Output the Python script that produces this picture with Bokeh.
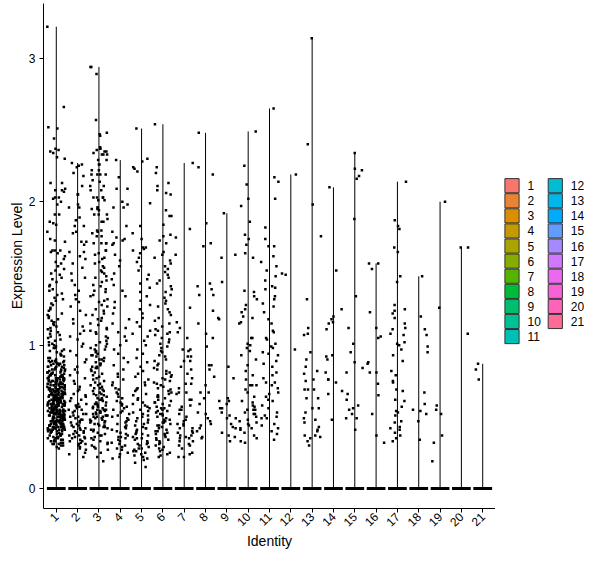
import math
from bokeh.plotting import figure
from bokeh.models import Range1d, FixedTicker, ColumnDataSource
from bokeh.layouts import row
from bokeh.embed import file_html
from bokeh.resources import INLINE
from bokeh.core.properties import value

# ---------------- data (expression values x100, non-zero cells) ----------------
identities = [str(i) for i in range(1, 22)]

c1 = [322, 266, 252, 251, 244, 237, 236, 235, 234, 231, 230, 213, 213, 209, 208, 208, 207, 203, 203, 202,
      200, 198, 191, 191, 186, 185, 184, 179, 174, 173, 172, 166, 166, 166, 165,
      164, 162, 160, 158, 157, 155, 153, 152, 150, 149, 147, 146, 144, 142, 141, 139, 138, 136, 135, 133,
      132, 131, 129, 128, 126, 125, 124, 122, 121, 120, 119, 118, 117, 116, 115, 114, 113, 112, 111, 110,
      109, 108, 107, 106, 105,
      104, 103, 102, 101, 100, 100, 99, 98, 98, 97, 96, 96, 95, 94, 93, 93, 92, 91, 91, 90,
      89, 89, 89, 88, 88, 88, 87, 87, 87, 86, 86, 86, 85, 85, 85, 84, 84, 84, 83, 83, 83, 82, 82, 82,
      81, 81, 81, 80, 80, 80, 89, 85, 83, 81, 87,
      79, 79, 79, 79, 79, 79, 78, 78, 78, 78, 78, 78, 77, 77, 77, 77, 77, 76, 76, 76, 76, 76, 76,
      75, 75, 75, 75, 75, 75, 74, 74, 74, 74, 74, 73, 73, 73, 73, 73, 73, 72, 72, 72, 72, 72,
      71, 71, 71, 71, 71, 70, 70, 70, 70, 70,
      69, 69, 69, 69, 69, 69, 69, 68, 68, 68, 68, 68, 68, 68, 67, 67, 67, 67, 67, 67,
      66, 66, 66, 66, 66, 66, 66, 65, 65, 65, 65, 65, 65, 64, 64, 64, 64, 64, 64, 64,
      63, 63, 63, 63, 63, 63, 62, 62, 62, 62, 62, 62, 62, 61, 61, 61, 61, 61, 61, 60, 60, 60, 60, 60, 60,
      59, 59, 59, 59, 59, 59, 59, 59, 58, 58, 58, 58, 58, 58, 58, 57, 57, 57, 57, 57, 57, 57, 57,
      56, 56, 56, 56, 56, 56, 56, 55, 55, 55, 55, 55, 55, 55, 55, 54, 54, 54, 54, 54, 54, 54,
      53, 53, 53, 53, 53, 53, 53, 53, 52, 52, 52, 52, 52, 52, 52, 51, 51, 51, 51, 51, 51, 51, 51,
      50, 50, 50, 50, 50, 50, 50,
      49, 49, 49, 49, 49, 49, 49, 48, 48, 48, 48, 48, 48, 47, 47, 47, 47, 47, 47, 47, 46, 46, 46, 46, 46, 46,
      45, 45, 45, 45, 45, 45, 45, 44, 44, 44, 44, 44, 44, 43, 43, 43, 43, 43, 43, 43, 42, 42, 42, 42, 42, 42,
      41, 41, 41, 41, 41, 41, 41, 40, 40, 40, 40, 40, 40,
      39, 39, 38, 38, 37, 37, 37, 36, 36, 35, 35, 35, 34, 34, 33, 33, 33, 32, 32, 31, 31, 30, 30, 29, 28,
      31, 34, 36, 38, 40]
c2 = [227, 226, 225, 224, 220, 218, 211, 205, 205, 198, 196, 196, 189, 187, 183, 183, 179, 178, 172, 172, 170, 165, 165,
      162, 160, 157, 154, 150, 147, 145, 142, 138, 135, 132, 130, 127, 124, 121, 118, 115, 113, 110, 108,
      106, 104, 101, 99, 96, 93, 90, 88, 85, 83, 81, 79, 77, 75, 73, 71,
      69, 68, 66, 65, 64, 63, 62, 61,
      59, 59, 58, 57, 57, 56, 55, 55, 54, 53, 52, 52, 51, 50, 50, 49, 48, 48, 47, 46, 46, 45, 44, 44, 43, 42,
      42, 41, 40, 40, 39, 39, 38, 37, 37, 36, 36, 35, 35, 34,
      33, 33, 32, 31, 31, 30, 29, 28, 27, 25, 24, 22]
c3 = [294, 294, 289, 257, 248, 247, 246, 238, 237, 237, 236, 235, 235, 234, 233, 233, 233, 229, 229, 226, 226,
      222, 222, 219, 219, 219, 219, 215, 214, 211, 211, 208, 208, 203, 203, 203, 203, 201, 201, 196, 196, 195,
      195, 194, 191, 191, 191, 188, 186, 186, 180, 180, 179, 178, 176, 176, 171, 171, 171, 171, 166, 166,
      164, 163, 161, 160, 158, 157, 155, 154, 152, 151, 150, 148, 147, 145, 144, 142, 141, 139, 138, 137,
      135, 134, 132, 131, 130, 128, 127, 125, 124, 122, 121, 119, 118, 117, 115, 114, 112, 111, 110, 109,
      108, 106, 105, 103, 102,
      101, 100, 99, 98, 97, 97, 96, 95, 94, 93, 93, 92, 91, 90, 90, 89, 88, 87, 87, 86, 85, 85, 84, 84, 83,
      82, 81, 80, 79, 78, 77, 76, 75, 74, 73, 72, 72, 71, 70, 70, 69, 68, 68, 67, 66, 66, 65, 65, 64, 63,
      63, 62, 62, 61, 60, 60, 59, 59, 58, 58, 57, 57, 56, 56, 55, 55, 55, 54, 54, 53, 53, 53, 52, 52, 51,
      51, 51, 50, 50, 50, 49, 49, 48, 48, 47, 47, 46, 46, 45, 45, 44, 44, 43, 43, 42, 41, 41, 40, 39, 38,
      37, 37, 36, 35, 34, 33, 32, 31, 30, 29, 28, 27, 25, 22, 19]
c4 = [229, 217, 209, 209, 200, 198, 196, 196, 183, 179, 175, 174, 173, 171, 170,
      163, 159, 155, 150, 146, 142, 138, 134, 130, 126, 122, 118, 115, 112, 109,
      106, 103, 100, 97, 94, 91, 88, 86, 83, 80, 78, 76, 74, 72, 70,
      69, 67, 66, 64, 63, 61, 60, 59, 58, 57, 56, 55, 54, 53, 52, 51, 50, 49, 48, 47, 46, 45, 44, 43, 42,
      41, 40, 39, 38, 37, 36, 36, 35, 34, 33, 32, 31, 30, 29, 28, 27, 25, 24, 22, 21]
c5 = [251, 230, 228, 224, 223, 221, 199, 183, 178, 174, 168, 168, 167, 166,
      164, 161, 158, 155, 152, 149, 146, 143, 140, 137, 134, 131, 128, 125, 122, 119, 116, 113, 110, 108,
      106, 103, 100, 97, 94, 91, 88, 85, 82, 80, 78, 76, 74, 72, 70,
      69, 68, 66, 65, 63, 62, 60, 59, 58, 57, 56, 55, 54, 53, 52, 51, 50, 49, 48, 47, 46, 45, 44, 43, 42,
      42, 41, 40, 39, 38, 38, 37, 36, 35, 35, 34, 33, 32, 31, 31, 30, 29, 28, 28, 27, 26, 26, 25, 24, 23,
      22, 21, 20, 18, 15]
c6 = [254, 224, 220, 213, 211, 208, 206, 205, 194, 190, 190, 184, 177, 176, 173, 171,
      165, 163, 161, 159, 157, 155, 153, 151, 149, 147, 145, 143, 141, 139, 137, 135, 133, 131, 129, 127,
      125, 123, 121, 119, 117, 115, 113, 111, 110, 109,
      108, 107, 105, 104, 102, 101, 99, 98, 96, 95, 93, 92, 90, 89, 87, 86, 84, 83, 82, 81, 80, 79, 78,
      77, 76, 75, 74, 73, 72, 71,
      70, 69, 68, 67, 66, 65, 64, 63, 62, 61, 60, 59, 58, 57, 56, 55, 54, 54, 53, 52, 51, 50, 49, 48, 47,
      46, 46, 45, 44, 43, 42, 41, 40, 40, 39, 38, 37, 36, 35, 34, 34, 33, 32, 31, 30, 29, 28, 27, 26, 25,
      24, 23, 22, 44, 48, 52, 56, 60, 64, 38]
c7 = [227, 181, 175, 163, 126, 116, 112, 109, 105, 97, 96, 97, 92, 92, 89, 89, 85, 83, 80, 77, 73, 73, 70,
      67, 67, 66, 62, 62, 58, 55, 55, 50, 48, 45, 45, 42, 42, 39, 39, 37, 37, 35, 35, 33, 33, 30, 30, 28,
      25, 22, 22, 24, 31, 36, 40, 44, 47, 52, 57]
c8 = [248, 224, 219, 185, 171, 169, 143, 141, 139, 135, 135, 124, 115, 108, 105, 99, 86, 86, 83, 78,
      67, 67, 59, 53, 49, 47, 45, 42, 36, 35, 40, 44, 52, 63, 72]
c9 = [192, 163, 161, 144, 119, 118, 85, 77, 63, 61, 61, 56, 59, 56, 53, 51, 49, 49, 45, 43, 42, 39, 37, 36, 33]
c10 = [249, 225, 212, 202, 197, 186, 177, 174, 170, 164, 161, 138, 137, 134, 132, 128, 125, 123, 120, 119,
       116, 115, 105, 105, 101, 100, 98, 96, 93, 90, 86, 82, 79, 76, 72, 72, 72, 69, 67, 64, 61, 60, 55,
       55, 55, 52, 52, 50, 45, 42, 42, 39, 37, 35, 33, 32, 48, 46, 44, 41, 58, 57, 53, 47]
c11 = [265, 217, 214, 202, 182, 174, 169, 169, 162, 158, 152, 148, 141, 140, 139, 134, 132, 127, 123, 118,
       109, 110, 105, 104, 99, 98, 93, 94, 95, 87, 85, 81, 79, 74, 74, 72, 70, 66, 67, 62, 61, 58, 56, 51,
       50, 42, 40, 49, 49, 45, 34, 38, 44, 53, 64, 77, 89, 101, 115, 129, 145, 155]
c12 = [219, 150, 149, 97]
c13 = [314, 240, 198, 176, 132, 112, 108, 107, 95, 90, 85, 82, 80, 76, 75, 69, 69, 69, 63, 63, 56, 56, 53,
       49, 48, 46, 43, 41, 40, 37, 37, 35, 33, 30, 36]
c14 = [210, 152, 125, 120, 118, 116, 115, 111, 93, 92, 90, 81, 76, 76, 74, 68, 66, 48]
c15 = [234, 223, 222, 218, 216, 188, 134, 112, 101, 95, 88, 84, 81, 66, 62, 58, 56, 55, 52, 49, 49, 41]
c16 = [157, 157, 153, 123, 112, 106, 105, 88, 87, 81, 81, 73, 65, 52, 37, 32]
c17 = [214, 187, 183, 181, 168, 165, 148, 144, 128, 125, 124, 122, 119, 115, 112, 111, 108, 107, 102, 101,
       100, 97, 93, 89, 82, 79, 75, 74, 69, 68, 62, 61, 57, 54, 53, 51, 47, 46, 43, 42, 41, 39, 37, 35, 33]
c18 = [148, 120, 111, 107, 99, 95, 67, 59, 55, 54, 52, 47, 34]
c19 = [200, 126, 58, 55, 52, 37, 32, 19]
c20 = [168, 168, 108]
c21 = [87, 83, 76]

expression = [c1, c2, c3, c4, c5, c6, c7, c8, c9, c10, c11, c12, c13, c14, c15, c16, c17, c18, c19, c20, c21]
y_ticks = [0, 1, 2, 3]

# ---------------- styling helpers ----------------
FONT = "Liberation Sans"
TOTAL_W, TOTAL_H = 584, 552
MAIN_W = 495
TOP, BOTTOM = 3, 42


def hcl_hex(h, c=100.0, l=65.0):
    # ggplot2 default hue palette colour (polar Luv -> sRGB)
    hr = math.radians(h)
    u, v = c * math.cos(hr), c * math.sin(hr)
    Y = ((l + 16) / 116) ** 3
    un, vn = 0.1978398, 0.4683363
    up = u / (13 * l) + un
    vp = v / (13 * l) + vn
    X = 9 * Y * up / (4 * vp)
    Z = Y * (12 - 3 * up - 20 * vp) / (4 * vp)
    rl = 3.240479 * X - 1.537150 * Y - 0.498535 * Z
    gl = -0.969256 * X + 1.875992 * Y + 0.041556 * Z
    bl = 0.055648 * X - 0.204043 * Y + 1.057311 * Z

    def g(ch):
        ch = 12.92 * ch if ch <= 0.0031308 else 1.055 * (max(ch, 0) ** (1 / 2.4)) - 0.055
        return int(round(min(max(ch, 0.0), 1.0) * 255))

    return "#%02X%02X%02X" % (g(rl), g(gl), g(bl))


n = len(identities)
colors = [hcl_hex(15 + 360.0 * i / n) for i in range(n)]


def jitter(i, k):
    s = math.sin(i * 12.9898 + k * 78.233) * 43758.5453
    return s - math.floor(s)


# ---------------- main plot ----------------
p = figure(width=MAIN_W, height=TOTAL_H, x_range=Range1d(0.4, n + 0.6), y_range=Range1d(-0.139, 3.382),
           output_backend="svg", toolbar_location=None,
           min_border_left=43, min_border_right=0, min_border_top=TOP, min_border_bottom=BOTTOM)
p.background_fill_color = "white"
p.outline_line_color = None
p.xgrid.visible = False
p.ygrid.visible = False

pos = list(range(1, n + 1))
maxima = [max(v) / 100.0 for v in expression]

# violin outlines: flat body at zero + thin spine up to the maximum
p.segment(x0=pos, y0=[0] * n, x1=pos, y1=maxima, line_color="black", line_width=1)
p.segment(x0=[x - 0.44 for x in pos], y0=[0] * n, x1=[x + 0.44 for x in pos], y1=[0] * n,
          line_color="black", line_width=3)

xs, ys = [], []
for k, vals in enumerate(expression):
    for i, v in enumerate(vals):
        xs.append(k + 1 + (jitter(i, k) - 0.5) * 0.84)
        ys.append(v / 100.0)
src = ColumnDataSource(dict(x=xs, y=ys))
p.scatter("x", "y", source=src, marker="square", size=2.5, fill_color="black", line_color=None)

for ax in (p.xaxis[0], p.yaxis[0]):
    ax.axis_line_color = "black"
    ax.axis_line_width = 1
    ax.major_tick_line_color = "black"
    ax.major_tick_line_width = 1
    ax.major_tick_in = 0
    ax.major_tick_out = 4
    ax.minor_tick_line_color = None
    ax.major_label_text_font = FONT
    ax.major_label_text_font_size = "12px"
    ax.major_label_text_color = "black"
    ax.axis_label_text_font = FONT
    ax.axis_label_text_font_size = "14px"
    ax.axis_label_text_font_style = "normal"
    ax.axis_label_text_color = "black"

p.yaxis.ticker = FixedTicker(ticks=y_ticks)
p.yaxis.major_label_standoff = 4
p.yaxis.axis_label = "Expression Level"
p.yaxis.axis_label_standoff = 1

p.xaxis.ticker = FixedTicker(ticks=pos)
p.xaxis.major_label_overrides = {pos[i]: identities[i] for i in range(n)}
p.xaxis.major_label_orientation = math.pi / 4
p.xaxis.major_label_standoff = 2
p.xaxis.axis_label = "Identity"
p.xaxis.axis_label_standoff = 0

# ---------------- legend panel (coordinates = canvas pixels) ----------------
LEG_W = TOTAL_W - MAIN_W
lg = figure(width=LEG_W, height=TOTAL_H, x_range=Range1d(0, LEG_W), y_range=Range1d(TOTAL_H - BOTTOM, TOP),
            output_backend="svg", toolbar_location=None,
            min_border_left=0, min_border_right=0, min_border_top=TOP, min_border_bottom=BOTTOM)
lg.axis.visible = False
lg.xgrid.visible = False
lg.ygrid.visible = False
lg.outline_line_color = None

rows = 11
kx = [16.5 + (k // rows) * 43.3 for k in range(n)]
ky = [185.9 + (k % rows) * 15.15 for k in range(n)]
lx = [x + 15.5 for x in kx]
lg.rect(x=kx, y=ky, width=14.2, height=14.2, fill_color=colors, line_color="#333333", line_width=1)
lg.text(x=lx, y=ky, text=identities, text_font=value(FONT), text_font_size="12px",
        text_baseline="middle", text_align="left", text_color="black")

layout = row(p, lg)
open("out.html", "w").write(file_html(layout, INLINE))
